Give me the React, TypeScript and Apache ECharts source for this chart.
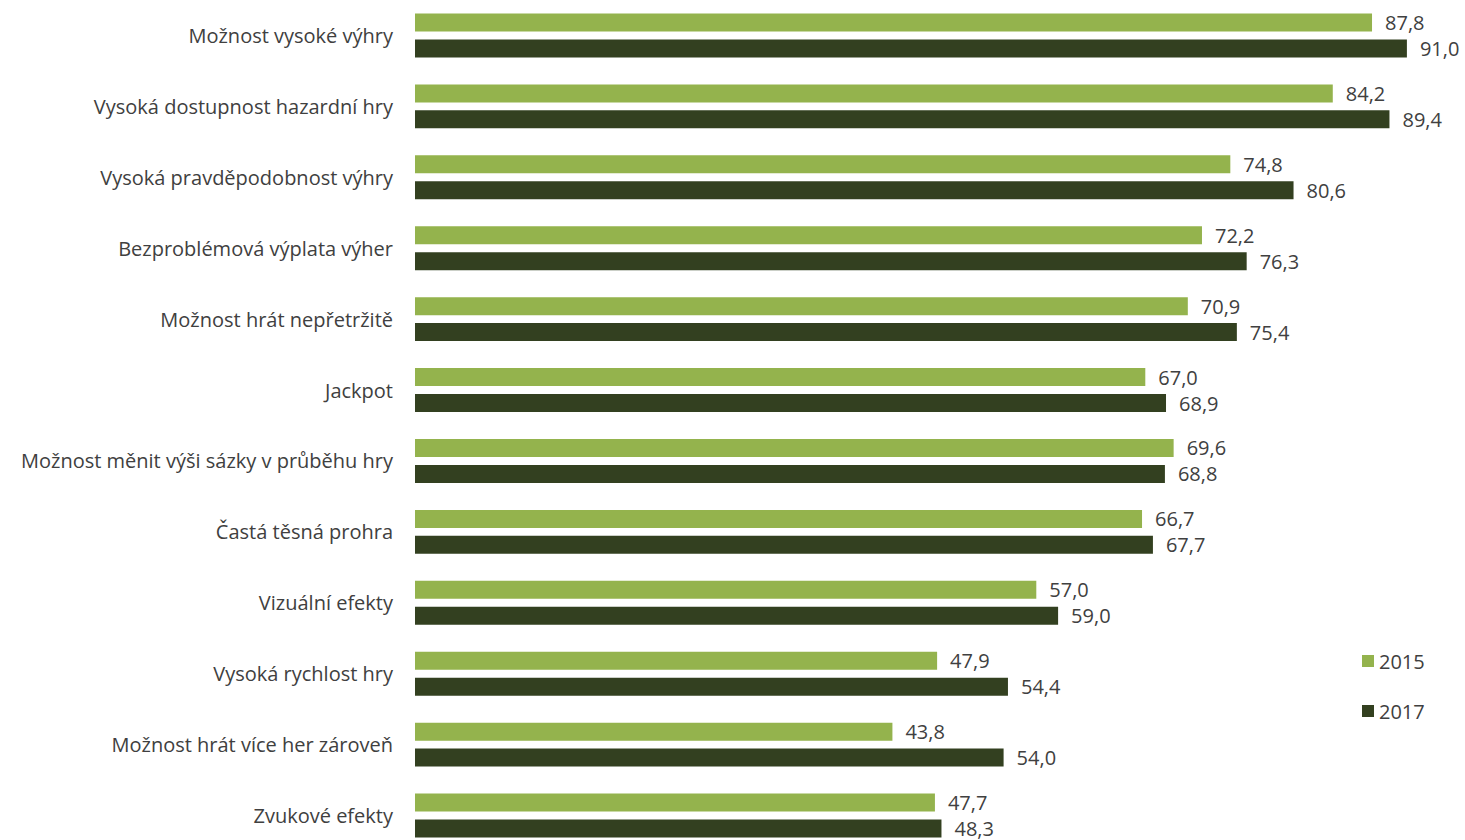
import React, { useEffect, useRef } from "react";
import * as echarts from "echarts";

const categories = [
  "Možnost vysoké výhry",
  "Vysoká dostupnost hazardní hry",
  "Vysoká pravděpodobnost výhry",
  "Bezproblémová výplata výher",
  "Možnost hrát nepřetržitě",
  "Jackpot",
  "Možnost měnit výši sázky v průběhu hry",
  "Častá těsná prohra",
  "Vizuální efekty",
  "Vysoká rychlost hry",
  "Možnost hrát více her zároveň",
  "Zvukové efekty",
];
const values2015 = [87.8, 84.2, 74.8, 72.2, 70.9, 67.0, 69.6, 66.7, 57.0, 47.9, 43.8, 47.7];
const values2017 = [91.0, 89.4, 80.6, 76.3, 75.4, 68.9, 68.8, 67.7, 59.0, 54.4, 54.0, 48.3];
const seriesNames = ["2015", "2017"];
const colors = ["#94B34D", "#334020"];

const FONT = "'Open Sans', 'Noto Sans', sans-serif";

export default function App() {
  const ref = useRef<HTMLDivElement>(null);
  useEffect(() => {
    if (!ref.current) return;
    const chart = echarts.init(ref.current, undefined, { renderer: "svg" });
    const label = {
      show: true,
      position: "right",
      distance: 13,
      fontSize: 20,
      fontFamily: FONT,
      color: "#404040",
      formatter: (p: any) => Number(p.value).toFixed(1).replace(".", ","),
    };
    chart.setOption({
      animation: false,
      textStyle: { fontFamily: FONT },
      legend: {
        orient: "vertical",
        left: 1357,
        top: 646,
        itemWidth: 12,
        itemHeight: 12,
        itemGap: 30,
        icon: "rect",
        textStyle: { fontSize: 20, color: "#404040", fontFamily: FONT },
        data: seriesNames,
      },
      grid: {
        left: 415,
        top: 0,
        width: 1090,
        height: 851,
        containLabel: false,
        outerBoundsMode: "none",
      },
      xAxis: {
        type: "value",
        min: 0,
        max: 100,
        show: false,
        splitLine: { show: false },
      },
      yAxis: {
        type: "category",
        data: categories,
        inverse: true,
        axisLine: { show: false },
        axisTick: { show: false },
        axisLabel: { fontSize: 20, color: "#404040", fontFamily: FONT, margin: 22 },
      },
      series: [
        {
          name: seriesNames[0],
          type: "bar",
          data: values2015,
          barWidth: 18,
          barGap: "44%",
          itemStyle: { color: colors[0] },
          label,
        },
        {
          name: seriesNames[1],
          type: "bar",
          data: values2017,
          barWidth: 18,
          barGap: "44%",
          itemStyle: { color: colors[1] },
          label,
        },
      ],
    });
    return () => chart.dispose();
  }, []);
  return (
    <div
      ref={ref}
      style={{ position: "fixed", left: 0, top: 0, width: 1465, height: 840, background: "#fff" }}
    />
  );
}
